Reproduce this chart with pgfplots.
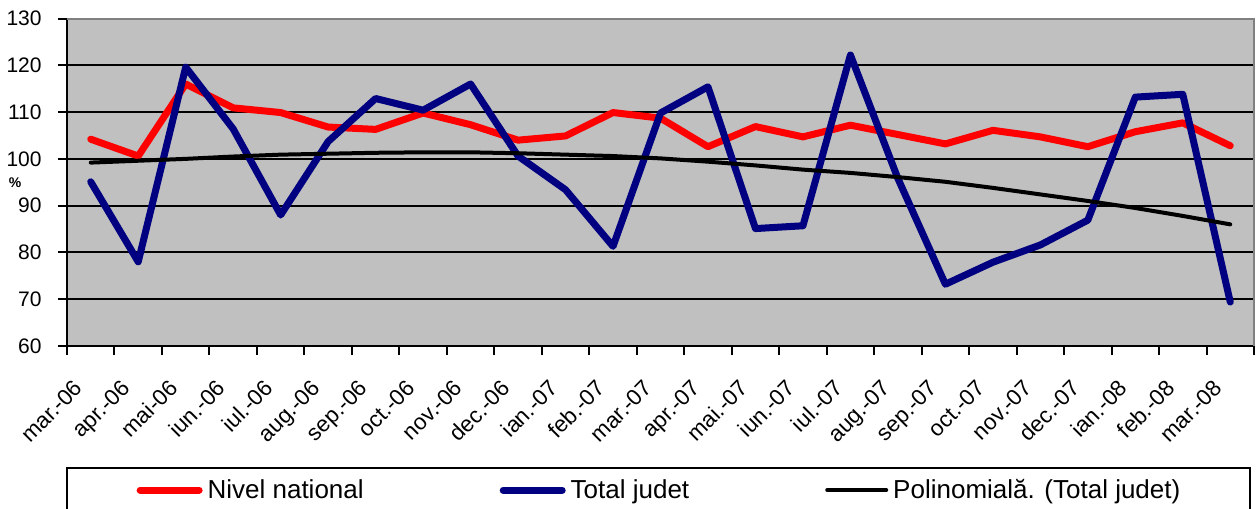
\documentclass[border=0pt]{standalone}
\usepackage{fontspec}
\setmainfont{Liberation Sans}
\usepackage{pgfplots}
\pgfplotsset{compat=1.18}
\definecolor{bggray}{HTML}{C0C0C0}
\definecolor{bordergray}{HTML}{808080}
\definecolor{navyblue}{HTML}{000080}
\begin{document}
\begin{tikzpicture}
\useasboundingbox (0,0) rectangle (628pt,254pt);
\begin{axis}[
  at={(33.5pt,81pt)}, anchor=south west,
  scale only axis, width=593.5pt, height=163.75pt,
  xmin=-0.5, xmax=24.5, ymin=60, ymax=130,
  clip=false,
  axis x line*=bottom, axis y line*=left,
  axis line style={-, black, line width=1pt},
  axis background/.style={fill=bggray},
  tick align=outside,
  tick style={black, line width=1pt},
  major tick length=4.5pt,
  xtick={-0.5,0.5,...,24.5},
  xticklabels={},
  extra x ticks={0,1,...,24},
  extra x tick labels={mar.-06,apr.-06,mai-06,iun.-06,iul.-06,aug.-06,sep.-06,oct.-06,nov.-06,dec.-06,ian.-07,feb.-07,mar.-07,apr.-07,mai.-07,iun.-07,iul.-07,aug.-07,sep.-07,oct.-07,nov.-07,dec.-07,ian.-08,feb.-08,mar.-08},
  extra x tick style={major tick length=0pt, grid=none,
    xticklabel style={font=\fontsize{11.2}{13}\selectfont, inner sep=0pt, xshift=-9pt, yshift=-16pt, rotate=45, anchor=north east}},
  ytick={60,70,...,130},
  yticklabel style={font=\fontsize{10.5}{12}\selectfont, inner sep=0pt, anchor=east, xshift=-8pt},
  /pgf/number format/assume math mode=true,
  ymajorgrids,
  major grid style={black, line width=1pt},
  ylabel={\%},
  ylabel style={rotate=-90, font=\fontsize{7}{8}\selectfont\bfseries, at={(axis description cs:0,0.5)}, anchor=center, xshift=-26pt},
  legend columns=3,
  legend style={at={(axis description cs:0.4983,-0.3695)}, anchor=north, draw=black, line width=1pt,
    inner xsep=35pt, inner ysep=5.5pt, font=\fontsize{13}{15.6}\selectfont, nodes={inner sep=0pt},
    /tikz/every odd column/.append style={column sep=2.5pt},
    /tikz/every even column/.append style={column sep=68pt}},
  legend image code/.code={\draw[#1, line cap=round] (0pt,0pt) -- (29.5pt,0pt);},
]
\addplot[red, line width=3.5pt, line join=round, line cap=round] coordinates {
(0,104.2) (1,100.6) (2,116.0) (3,110.9) (4,109.9) (5,106.8) (6,106.3) (7,109.8) (8,107.3) (9,104.0)
(10,104.9) (11,109.9) (12,108.7) (13,102.6) (14,106.9) (15,104.7) (16,107.2) (17,105.2) (18,103.2) (19,106.1)
(20,104.7) (21,102.6) (22,105.8) (23,107.7) (24,102.8)};
\addlegendentry{Nivel national}
\addplot[navyblue, line width=3.5pt, line join=round, line cap=round] coordinates {
(0,95.1) (1,78.0) (2,119.6) (3,106.4) (4,88.0) (5,103.7) (6,112.9) (7,110.4) (8,116.0) (9,100.6)
(10,93.4) (11,81.3) (12,109.8) (13,115.4) (14,85.1) (15,85.7) (16,122.2) (17,95.8) (18,73.2) (19,77.9)
(20,81.6) (21,86.9) (22,113.2) (23,113.8) (24,69.4)};
\addlegendentry{Total judet}
\addplot[black, line width=2pt, line join=round, line cap=round] coordinates {
(0,99.2) (1,99.6) (2,100.0) (3,100.5) (4,100.9) (5,101.1) (6,101.3) (7,101.4) (8,101.4) (9,101.2)
(10,100.9) (11,100.6) (12,100.1) (13,99.4) (14,98.6) (15,97.7) (16,97.0) (17,96.1) (18,95.1) (19,93.8)
(20,92.4) (21,91.0) (22,89.5) (23,87.8) (24,86.0)};
\addlegendentry{Polinomială. (Total judet)}
\draw[bordergray, line width=1pt] (rel axis cs:0,1) -- (rel axis cs:1,1) -- (rel axis cs:1,0);
\end{axis}
\end{tikzpicture}
\end{document}
